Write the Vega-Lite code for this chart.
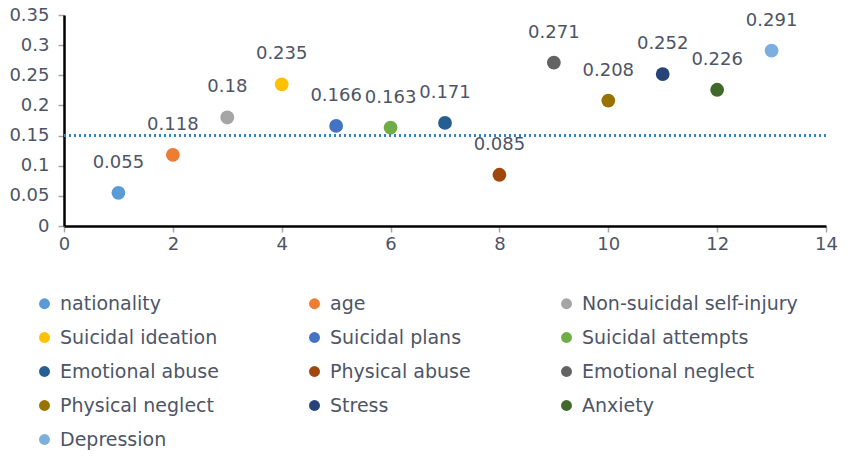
{
  "$schema": "https://vega.github.io/schema/vega-lite/v6.json",
  "width": 762,
  "height": 211,
  "autosize": {"type": "none"},
  "padding": {"left": 64, "top": 15, "right": 25, "bottom": 231},
  "config": {"view": {"stroke": null}, "font": "DejaVu Sans"},
  "data": {
    "values": [
      {"x": 1, "value": 0.055, "factor": "nationality"},
      {"x": 2, "value": 0.118, "factor": "age"},
      {"x": 3, "value": 0.18, "factor": "Non-suicidal self-injury"},
      {"x": 4, "value": 0.235, "factor": "Suicidal ideation"},
      {"x": 5, "value": 0.166, "factor": "Suicidal plans"},
      {"x": 6, "value": 0.163, "factor": "Suicidal attempts"},
      {"x": 7, "value": 0.171, "factor": "Emotional abuse"},
      {"x": 8, "value": 0.085, "factor": "Physical abuse"},
      {"x": 9, "value": 0.271, "factor": "Emotional neglect"},
      {"x": 10, "value": 0.208, "factor": "Physical neglect"},
      {"x": 11, "value": 0.252, "factor": "Stress"},
      {"x": 12, "value": 0.226, "factor": "Anxiety"},
      {"x": 13, "value": 0.291, "factor": "Depression"}
    ]
  },
  "encoding": {
    "x": {
      "field": "x", "type": "quantitative",
      "scale": {"domain": [0, 14], "nice": false},
      "axis": {
        "values": [0, 2, 4, 6, 8, 10, 12, 14], "format": "d", "title": null, "grid": false,
        "labelFlush": false, "labelOverlap": false,
        "domainColor": "#000000", "domainWidth": 2.5,
        "tickColor": "#A6A6A6", "tickSize": 6, "tickWidth": 1.5,
        "labelFontSize": 18, "labelColor": "#4D5566", "labelPadding": 3
      }
    },
    "y": {
      "field": "value", "type": "quantitative",
      "scale": {"domain": [0, 0.35], "nice": false},
      "axis": {
        "values": [0, 0.05, 0.1, 0.15, 0.2, 0.25, 0.3, 0.35], "format": ".2~f",
        "title": null, "grid": false, "labelFlush": false, "labelOverlap": false,
        "domainColor": "#000000", "domainWidth": 2.5,
        "tickColor": "#A6A6A6", "tickSize": 6, "tickWidth": 1.5,
        "labelFontSize": 18, "labelColor": "#4D5566", "labelPadding": 9
      }
    }
  },
  "layer": [
    {
      "mark": {"type": "circle", "size": 190, "opacity": 1},
      "encoding": {
        "color": {
          "field": "factor", "type": "nominal",
          "scale": {
            "domain": ["nationality", "age", "Non-suicidal self-injury", "Suicidal ideation", "Suicidal plans", "Suicidal attempts", "Emotional abuse", "Physical abuse", "Emotional neglect", "Physical neglect", "Stress", "Anxiety", "Depression"],
            "range": ["#5B9BD5", "#ED7D31", "#A5A5A5", "#FFC000", "#4472C4", "#70AD47", "#255E91", "#9E480E", "#636363", "#997300", "#264478", "#43682B", "#7CAFDD"]
          },
          "legend": {
            "orient": "none", "legendX": -29, "legendY": 279, "direction": "horizontal",
            "columns": 3, "columnPadding": 86, "rowPadding": 14,
            "title": null, "symbolType": "circle", "symbolSize": 120,
            "symbolStrokeWidth": 0, "symbolOpacity": 1,
            "labelFontSize": 19, "labelColor": "#4D5566", "labelOffset": 6, "labelLimit": 400
          }
        }
      }
    },
    {
      "mark": {"type": "rule", "strokeDash": [2, 3], "color": "#2E86C8", "strokeWidth": 2},
      "encoding": {
        "x": {"value": 0},
        "x2": {"value": 762},
        "y": {
          "datum": 0.15, "type": "quantitative",
          "axis": {
            "values": [0, 0.05, 0.1, 0.15, 0.2, 0.25, 0.3, 0.35], "format": ".2~f",
            "title": null, "grid": false, "labelFlush": false, "labelOverlap": false,
            "domainColor": "#000000", "domainWidth": 2.5,
            "tickColor": "#A6A6A6", "tickSize": 6, "tickWidth": 1.5,
            "labelFontSize": 18, "labelColor": "#4D5566", "labelPadding": 9
          }
        }
      }
    },
    {
      "mark": {"type": "text", "dy": -30, "fontSize": 18, "color": "#4D5566"},
      "encoding": {
        "text": {"field": "value", "type": "quantitative", "format": ".3~f"}
      }
    }
  ]
}
